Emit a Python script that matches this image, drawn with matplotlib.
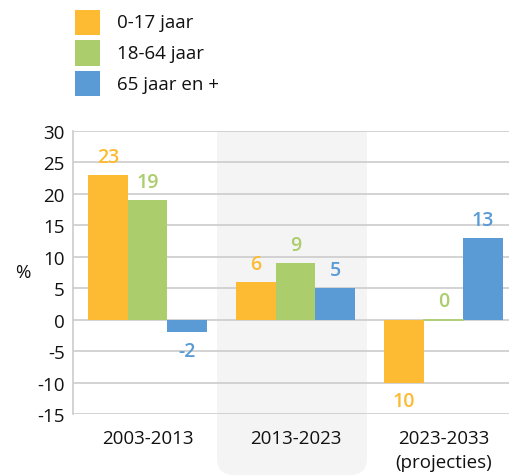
import matplotlib
matplotlib.use("Agg")
import matplotlib.pyplot as plt
from matplotlib.patches import FancyBboxPatch, Rectangle
import numpy as np

plt.rcParams['font.family'] = ['Open Sans', 'DejaVu Sans']
plt.rcParams['axes.unicode_minus'] = False

periods = ["2003-2013", "2013-2023", "2023-2033\n(projecties)"]
groups = ["0-17 jaar", "18-64 jaar", "65 jaar en +"]
values = {
    "0-17 jaar": [23, 6, -10],
    "18-64 jaar": [19, 9, 0],
    "65 jaar en +": [-2, 5, 13],
}
# labels as printed in the source chart
labels = {
    "0-17 jaar": ["23", "6", "10"],
    "18-64 jaar": ["19", "9", "0"],
    "65 jaar en +": ["-2", "5", "13"],
}
colors = ["#FDBB33", "#ABCD6B", "#5B9BD5"]
yticks = [-15, -10, -5, 0, 5, 10, 15, 20, 25, 30]

fig = plt.figure(figsize=(5.10, 4.77), dpi=100)
ax = fig.add_axes([73/510, 1-415/477, 1-73/510, (415-132)/477])
ax.set_facecolor('none')

# grey band behind middle group (figure coords): rounded bottom, square top
band_col = "#F4F4F4"
bx, bw = 217/510, (367-217)/510
fig.patches.append(FancyBboxPatch((bx, 0.002), bw, 0.5,
                                  boxstyle="round,pad=0,rounding_size=0.035",
                                  transform=fig.transFigure, facecolor=band_col,
                                  edgecolor='none', zorder=-10))
fig.patches.append(Rectangle((bx, 0.3), bw, 1-132/477 - 0.3,
                             transform=fig.transFigure, facecolor=band_col,
                             edgecolor='none', zorder=-10))

x = np.arange(len(periods))
w = 0.267
for i, (g, c) in enumerate(zip(groups, colors)):
    xs = x + (i - 1) * w
    vals = values[g]
    ax.bar(xs, vals, w, color=c, zorder=3, linewidth=0)
    for xi, v, lab in zip(xs, vals, labels[g]):
        if v == 0:
            ax.plot([xi - w/2, xi + w/2], [0, 0], color=c, lw=1.2, zorder=4)
        off = 6 if v >= 0 else -6
        ax.annotate(lab, (xi, v), xytext=(0, off), textcoords='offset points',
                    ha='center', va='bottom' if v >= 0 else 'top',
                    color=c, fontsize=14, fontweight='semibold')

ax.set_xlim(-0.503, 2.449)
ax.set_ylim(-15, 30)
ax.set_yticks(yticks)
ax.set_xticks(x)
ax.set_xticklabels(periods, fontsize=13.5, color="#111111", linespacing=1.4)
ax.tick_params(axis='y', labelsize=13.5, labelcolor="#111111", length=0, pad=6)
ax.tick_params(axis='x', length=0, pad=11)
ax.grid(axis='y', color="#CCCCCC", lw=1.2, zorder=0)
for s in ['top', 'right', 'bottom']:
    ax.spines[s].set_visible(False)
ax.spines['left'].set_color("#CCCCCC")
ax.spines['left'].set_linewidth(1.2)
ax.set_ylabel("%", rotation=0, fontsize=13.5, color="#111111", labelpad=10, va='center')

# legend
for i, (g, c) in enumerate(zip(groups, colors)):
    top = 11 + i * 30.5
    fig.patches.append(Rectangle((75/510, 1-(top+25)/477), 25/510, 25/477,
                                 transform=fig.transFigure, facecolor=c, edgecolor='none'))
    fig.text(117/510, 1-(top+12.5)/477, g, fontsize=13.5, va='center', ha='left', color="#111111")

fig.savefig("out.png", dpi=100)
